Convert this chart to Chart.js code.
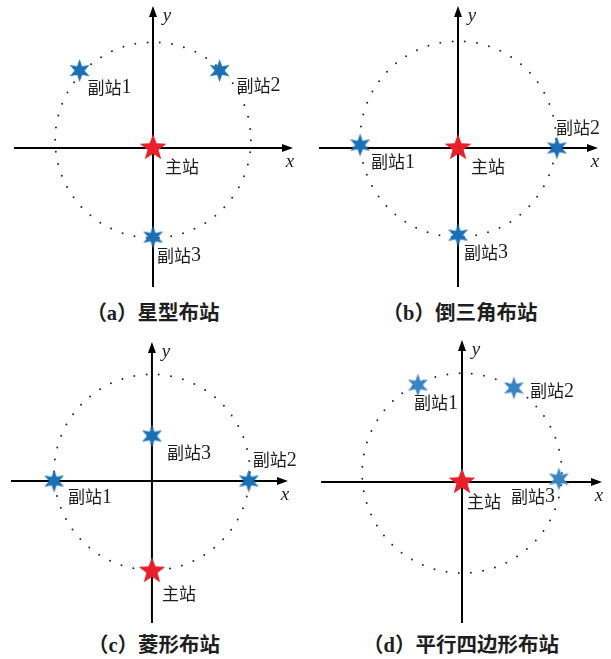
<!DOCTYPE html>
<html>
<head>
<meta charset="utf-8">
<script src="https://cdn.jsdelivr.net/npm/chart.js@4.4.1/dist/chart.umd.min.js"></script>
<style>
  html, body { margin: 0; padding: 0; background: #fff; }
  #wrap { position: relative; width: 611px; height: 659px; overflow: hidden; }
  #wrap canvas { position: absolute; }
  .cap {
    position: absolute; white-space: nowrap; transform: translateX(-50%);
    font: bold 20.5px "Liberation Serif", "Noto Sans CJK SC", sans-serif;
    line-height: 22px; color: #1e1e1e;
  }
</style>
</head>
<body>
<div id="wrap"></div>
<script>
// ---- layouts: one master station and three slave stations on a unit circle ----
const panelTags = ['a', 'b', 'c', 'd'];
const layoutNames = ['星型布站', '倒三角布站', '菱形布站', '平行四边形布站'];
const masterName = '主站';
const slaveNames = ['副站1', '副站2', '副站3'];

// master station position per layout
const masterX = [0, 0, 0, 0];
const masterY = [0, 0, -0.92, 0];

// slave stations, one pair of arrays per layout
const slaveX_a = [-0.75, 0.68, 0];
const slaveY_a = [0.79, 0.79, -0.91];
const slaveX_b = [-1.0, 1.01, 0];
const slaveY_b = [0.03, 0, -0.89];
const slaveX_c = [-1.0, 0.99, 0];
const slaveY_c = [0, 0, 0.46];
const slaveX_d = [-0.45, 0.53, 0.99];
const slaveY_d = [0.99, 0.96, 0.03];
const slaveX = [slaveX_a, slaveX_b, slaveX_c, slaveX_d];
const slaveY = [slaveY_a, slaveY_b, slaveY_c, slaveY_d];

// dotted reference circle: centre height and radius
const circleCY = [0.08, 0.09, 0.09, 0.09];
const circleR = [1.0, 1.0, 1.0, 1.02];

// axis extents
const axisXMin = [-1.42, -1.42, -1.44, -1.44];
const axisXMax = [1.43, 1.43, 1.39, 1.43];
const axisYMin = [-1.42, -1.42, -1.45, -1.44];
const axisYMax = [1.45, 1.45, 1.42, 1.45];

// ---- placement and styling ----
const panelBox = [
  { left: 0,   top: 0,   w: 305, h: 300, pad: { left: 14, right: 12, top: 6,  bottom: 13 }, capX: 153, capY: 302 },
  { left: 305, top: 0,   w: 306, h: 300, pad: { left: 14, right: 13, top: 6,  bottom: 13 }, capX: 460, capY: 302 },
  { left: 0,   top: 330, w: 305, h: 300, pad: { left: 11, right: 17, top: 12, bottom: 7 },  capX: 154, capY: 634 },
  { left: 305, top: 330, w: 306, h: 300, pad: { left: 16, right: 9,  top: 10, bottom: 7 },  capX: 461, capY: 634 }
];
// text offsets (px) from each star: [dx, dy]
const labelOffsets = [
  { main: [12, 19], sub: [[8, 17], [17, 15], [4, 18]] },
  { main: [13, 19], sub: [[11, 17], [-1, -20], [6, 17]] },
  { main: [10, 22], sub: [[14, 16], [4, -21], [15, 17]] },
  { main: [5, 20],  sub: [[-4, 18], [16, 3], [-48, 17]] }
];
const slaveColors = ['#1a70b6', '#1a70b6', '#1a70b6', '#3a84c6'];
const masterColor = '#ea1f2a';
const hanFont = '17px "Noto Sans CJK SC", sans-serif';
const digitFont = '20px "Liberation Serif", serif';

function starImage(points, outerR, innerR, color) {
  const size = Math.ceil(outerR * 2 + 2);
  const c = document.createElement('canvas');
  c.width = c.height = size;
  const g = c.getContext('2d');
  g.translate(size / 2, size / 2);
  g.beginPath();
  for (let i = 0; i < points * 2; i++) {
    const r = i % 2 ? innerR : outerR;
    const a = -Math.PI / 2 + i * Math.PI / points;
    g.lineTo(r * Math.cos(a), r * Math.sin(a));
  }
  g.closePath();
  g.fillStyle = color;
  g.fill();
  return c;
}

// station name: Han characters followed by a serif numeral
function drawStationName(ctx, text, px, py) {
  const m = text.match(/^(\D*)(\d*)$/);
  ctx.font = hanFont;
  ctx.fillText(m[1], px, py);
  if (m[2]) {
    const w = ctx.measureText(m[1]).width;
    ctx.font = digitFont;
    ctx.fillText(m[2], px + w, py + 0.5);
  }
}

const schematic = {
  id: 'schematic',
  beforeDatasetsDraw(chart, args, opts) {
    const p = opts.panel;
    const { ctx, chartArea: area } = chart;
    const x = chart.scales.x, y = chart.scales.y;
    const x0 = x.getPixelForValue(0), y0 = y.getPixelForValue(0);

    // dotted circle
    const cy = y.getPixelForValue(circleCY[p]);
    const r = x.getPixelForValue(circleR[p]) - x0;
    ctx.save();
    ctx.strokeStyle = '#2a2a2a';
    ctx.lineWidth = 2;
    ctx.lineCap = 'round';
    ctx.setLineDash([0, 12.3]);
    ctx.beginPath();
    ctx.arc(x0, cy, r, 0, Math.PI * 2);
    ctx.stroke();
    ctx.restore();

    // axes with arrowheads
    const head = 11, half = 4;
    ctx.save();
    ctx.strokeStyle = '#000';
    ctx.fillStyle = '#000';
    ctx.lineWidth = 2;
    ctx.beginPath();
    ctx.moveTo(area.left, y0);
    ctx.lineTo(area.right - head + 1, y0);
    ctx.moveTo(x0, area.bottom);
    ctx.lineTo(x0, area.top + head - 1);
    ctx.stroke();
    ctx.beginPath();
    ctx.moveTo(area.right, y0);
    ctx.lineTo(area.right - head, y0 - half);
    ctx.lineTo(area.right - head, y0 + half);
    ctx.closePath();
    ctx.fill();
    ctx.beginPath();
    ctx.moveTo(x0, area.top);
    ctx.lineTo(x0 - half, area.top + head);
    ctx.lineTo(x0 + half, area.top + head);
    ctx.closePath();
    ctx.fill();

    // axis names
    ctx.font = 'italic 19px "Liberation Serif", serif';
    ctx.textBaseline = 'middle';
    ctx.textAlign = 'center';
    ctx.fillStyle = '#1e1e1e';
    ctx.fillText('x', area.right - 3, y0 + 14);
    ctx.fillText('y', x0 + 14, area.top + 10);
    ctx.restore();
  },
  afterDatasetsDraw(chart, args, opts) {
    const p = opts.panel;
    const { ctx } = chart;
    const x = chart.scales.x, y = chart.scales.y;
    const off = labelOffsets[p];
    ctx.save();
    ctx.textBaseline = 'middle';
    ctx.textAlign = 'left';
    ctx.fillStyle = '#1e1e1e';
    drawStationName(ctx, masterName,
      x.getPixelForValue(masterX[p]) + off.main[0],
      y.getPixelForValue(masterY[p]) + off.main[1]);
    slaveNames.forEach((name, i) => {
      drawStationName(ctx, name,
        x.getPixelForValue(slaveX[p][i]) + off.sub[i][0],
        y.getPixelForValue(slaveY[p][i]) + off.sub[i][1]);
    });
    ctx.restore();
  }
};

const wrap = document.getElementById('wrap');
const masterStar = starImage(5, 14, 5.8, masterColor);

panelTags.forEach((tag, p) => {
  const box = panelBox[p];
  const cv = document.createElement('canvas');
  cv.width = box.w; cv.height = box.h;
  cv.style.left = box.left + 'px';
  cv.style.top = box.top + 'px';
  cv.style.width = box.w + 'px';
  cv.style.height = box.h + 'px';
  wrap.appendChild(cv);

  const cap = document.createElement('div');
  cap.className = 'cap';
  cap.style.left = box.capX + 'px';
  cap.style.top = box.capY + 'px';
  cap.textContent = '（' + tag + '）' + layoutNames[p];
  wrap.appendChild(cap);

  const slaveStar = starImage(6, 11.5, 5, slaveColors[p]);

  new Chart(cv, {
    type: 'scatter',
    data: {
      datasets: [
        {
          data: slaveX[p].map((v, i) => ({ x: v, y: slaveY[p][i] })),
          pointStyle: slaveStar,
          clip: false
        },
        {
          data: [{ x: masterX[p], y: masterY[p] }],
          pointStyle: masterStar,
          clip: false
        }
      ]
    },
    options: {
      responsive: false,
      animation: false,
      devicePixelRatio: 1,
      layout: { padding: box.pad },
      plugins: {
        legend: { display: false },
        tooltip: { enabled: false },
        schematic: { panel: p }
      },
      scales: {
        x: { type: 'linear', min: axisXMin[p], max: axisXMax[p], display: false },
        y: { type: 'linear', min: axisYMin[p], max: axisYMax[p], display: false }
      }
    },
    plugins: [schematic]
  });
});
</script>
</body>
</html>
